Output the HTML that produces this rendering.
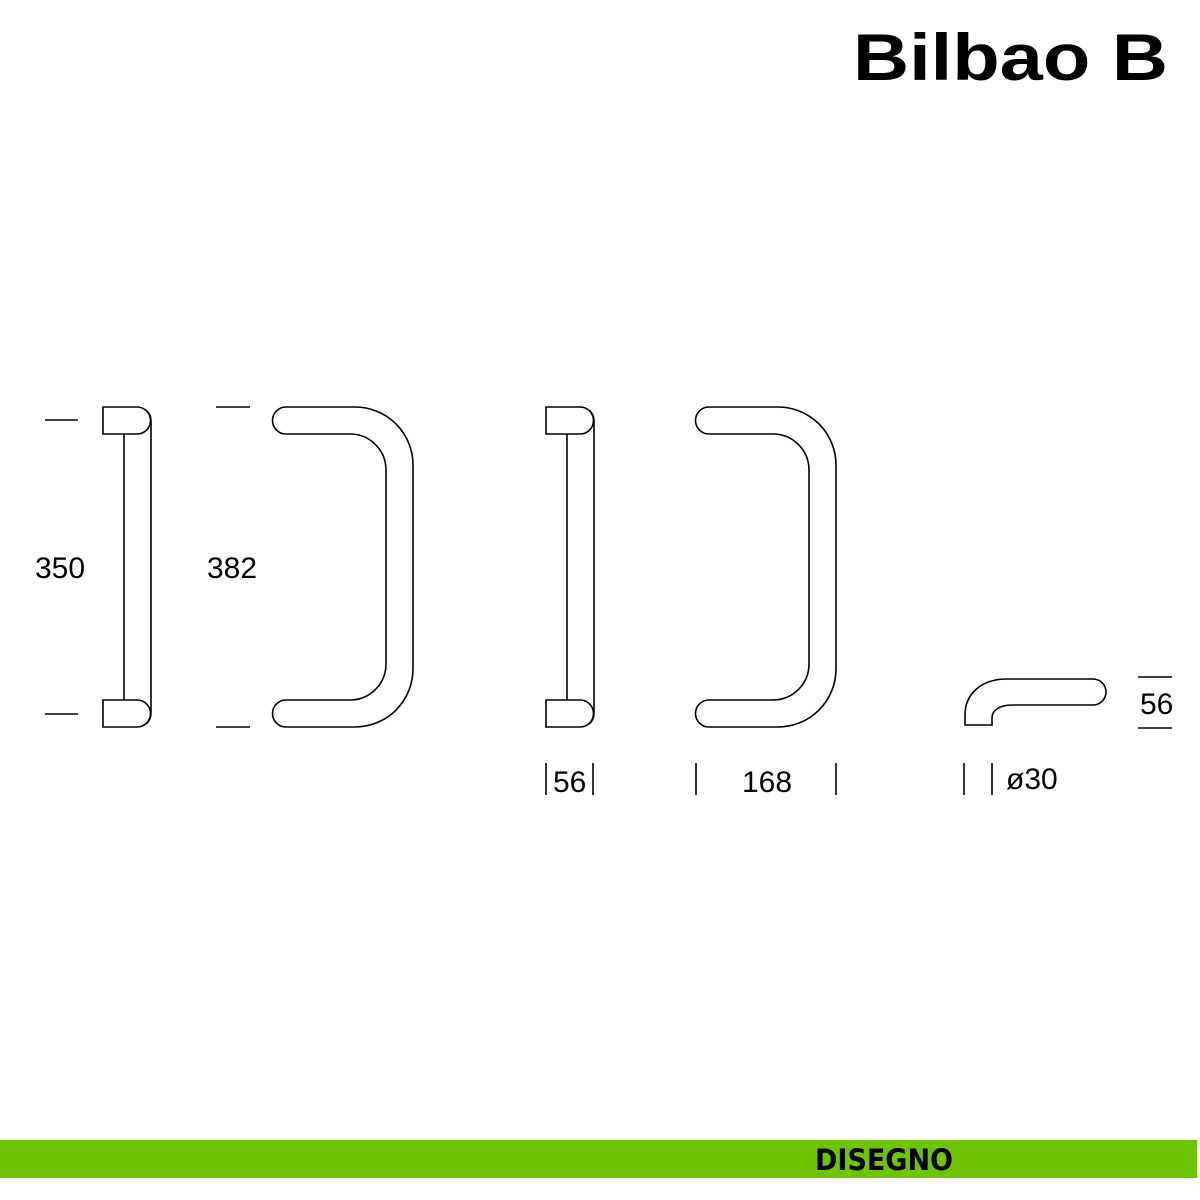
<!DOCTYPE html>
<html><head><meta charset="utf-8"><style>html,body{margin:0;padding:0;background:#fff}svg{display:block}</style></head>
<body>
<svg width="1200" height="1200" viewBox="0 0 1200 1200" xmlns="http://www.w3.org/2000/svg">
<rect width="1200" height="1200" fill="#fff"/>
<text x="853" y="80" font-family="Liberation Sans, sans-serif" font-weight="bold" font-size="66" textLength="315" lengthAdjust="spacingAndGlyphs">Bilbao B</text>
<g fill="none" stroke="#000" stroke-width="1.6">
  <path d="M103,407 H137 A13.5,13.5 0 0 1 137,434 H103 Z"/>
  <path d="M103,700 H137 A13.5,13.5 0 0 1 137,727 H103 Z"/>
  <path d="M124,434 V700"/>
  <path d="M146,410 Q151,414 151,421 V713 Q151,720 146,724"/>
  <path d="M286,407 H355 A58,58 0 0 1 413,465 V669 A58,58 0 0 1 355,727 H286 A13.5,13.5 0 0 1 286,700 H350 A36,36 0 0 0 386,664 V470 A36,36 0 0 0 350,434 H286 A13.5,13.5 0 0 1 286,407 Z"/>
  <path d="M546,407 H580 A13.5,13.5 0 0 1 580,434 H546 Z"/>
  <path d="M546,700 H580 A13.5,13.5 0 0 1 580,727 H546 Z"/>
  <path d="M567,434 V700"/>
  <path d="M589,410 Q594,414 594,421 V713 Q594,720 589,724"/>
  <path d="M709,407 H778 A58,58 0 0 1 836,465 V669 A58,58 0 0 1 778,727 H709 A13.5,13.5 0 0 1 709,700 H773 A36,36 0 0 0 809,664 V470 A36,36 0 0 0 773,434 H709 A13.5,13.5 0 0 1 709,407 Z"/>
  <path d="M965,725 V715 C965,695 980,679 1007,679 H1093 A13,13 0 0 1 1093,705 H1012 C1000,705 992,710 992,718 V725 Z"/>
  <path d="M45,420 H78 M45,714 H78 M216,407 H250 M216,727 H250"/>
  <path d="M546,763 V795 M593,763 V795 M696,763 V795 M836,763 V795 M964,763 V795 M992,763 V795"/>
  <path d="M1138,677 H1172 M1138,728 H1172"/>
</g>
<g font-family="Liberation Sans, sans-serif" font-size="30" fill="#000">
  <text x="35" y="578">350</text>
  <text x="207" y="578">382</text>
  <text x="553" y="792">56</text>
  <text x="742" y="792">168</text>
  <text x="1006" y="789">ø30</text>
  <text x="1140" y="714">56</text>
</g>
<rect x="0" y="1140" width="1197" height="38" fill="#6fc400"/>
<text x="815" y="1170" font-family="DejaVu Sans, sans-serif" font-weight="bold" font-size="29" fill="#000" textLength="138" lengthAdjust="spacingAndGlyphs">DISEGNO</text>
</svg>
</body></html>
